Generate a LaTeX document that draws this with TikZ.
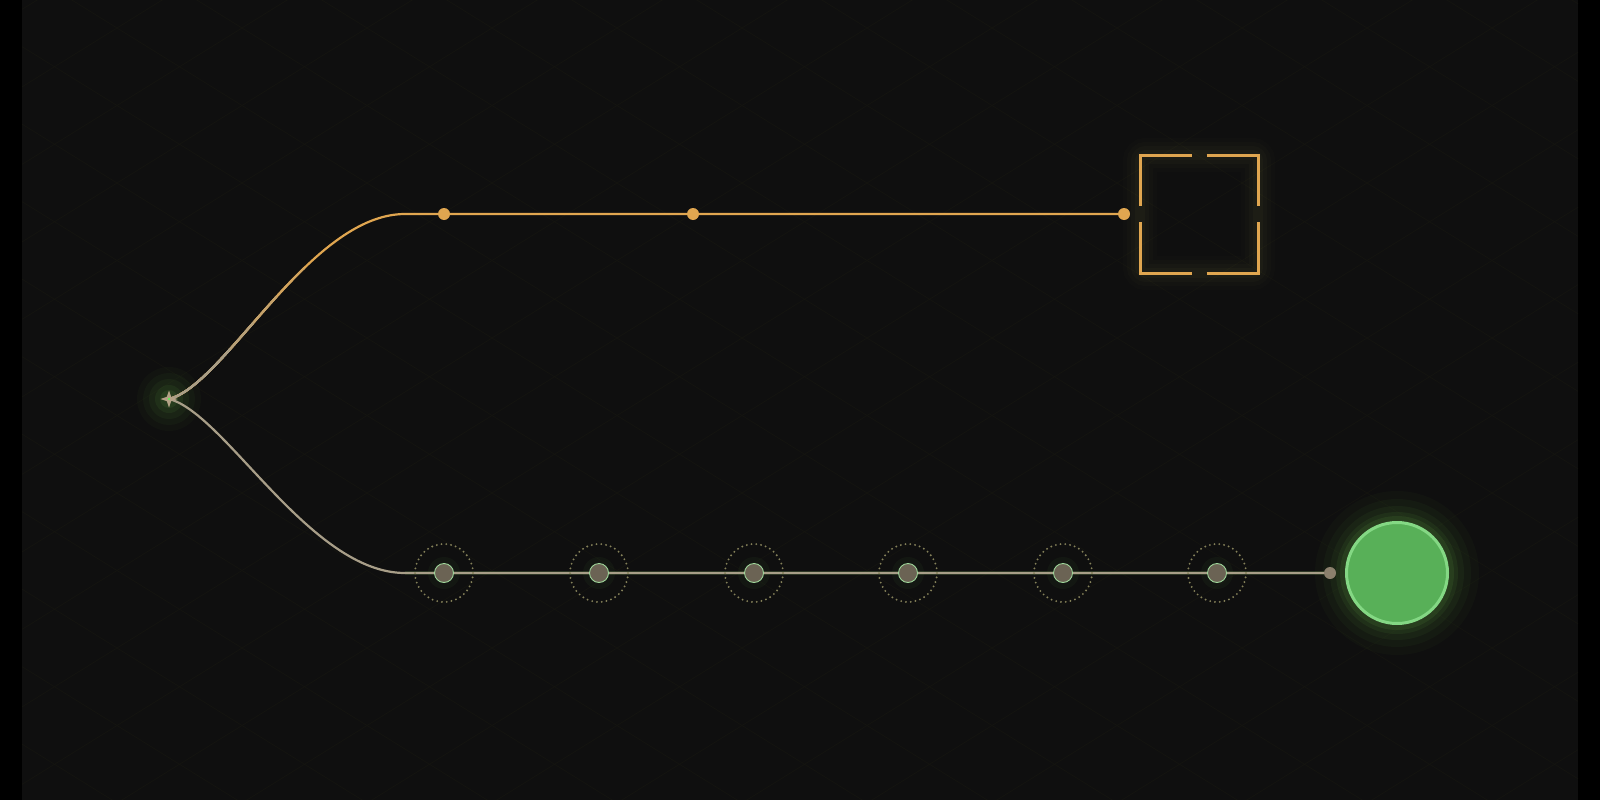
\documentclass[tikz,border=0pt]{standalone}
\usetikzlibrary{shapes.geometric,calc}
\definecolor{bgc}{HTML}{0F0F0F}
\definecolor{gridc}{HTML}{15150F}
\definecolor{orangec}{HTML}{E0A650}
\definecolor{tanc}{HTML}{A89E88}
\definecolor{olivec}{HTML}{858159}
\definecolor{nodefill}{HTML}{6B6354}
\definecolor{nodering}{HTML}{9ED69A}
\definecolor{enddot}{HTML}{8B806D}
\definecolor{greenf}{HTML}{58B058}
\definecolor{greenr}{HTML}{84D884}
\definecolor{glowg}{HTML}{4A7A36}
\definecolor{boxglow}{HTML}{5A5A30}
\definecolor{starc}{HTML}{B4A286}
\pgfdeclarelayer{back}
\pgfdeclarelayer{lines}
\pgfsetlayers{back,lines,main}
\tikzset{
  odot/.style={circle, fill=orangec, inner sep=0pt, outer sep=0pt, minimum size=12pt},
  stage/.style={circle, fill=nodefill, draw=nodering, line width=0.9pt, inner sep=0pt, outer sep=0pt, minimum size=19pt},
  halo/.style={circle, draw=olivec, line width=2.1pt, line cap=round, dash pattern=on 0pt off 4.8pt, inner sep=0pt, outer sep=0pt, minimum size=58pt},
  edot/.style={circle, fill=enddot, inner sep=0pt, outer sep=0pt, minimum size=12pt},
  goal/.style={circle, fill=greenf, draw=greenr, line width=3pt, inner sep=0pt, outer sep=0pt, minimum size=101pt},
  origin/.style={star, star points=4, star point ratio=2.8, fill=starc, inner sep=0pt, outer sep=0pt, minimum size=17pt},
  frame/.style={rectangle, inner sep=0pt, outer sep=0pt, minimum size=118pt},
  bracket/.style={draw=orangec, line width=3pt},
  topline/.style={draw=orangec, line width=2.2pt},
  botline/.style={draw=tanc, line width=2.2pt},
}
\begin{document}
\begin{tikzpicture}[x=1pt,y=-1pt]
\useasboundingbox (0,0) rectangle (1600,800);
% nodes
\node[origin] (s) at (169,399) {};
\fill[green!70!white] (s.center) circle (1.2pt);
\node[odot] (t1) at (444,214) {};
\node[odot] (t2) at (693,214) {};
\node[odot] (t3) at (1124,214) {};
\node[frame] (box) at (1199,214) {};
\coordinate (tc) at (405,214);
\coordinate (bc) at (405,573);
\foreach \i/\x in {1/444,2/599,3/754,4/908,5/1063,6/1217}{
  \node[halo] (h\i) at (\x,573) {};
  \node[stage] (n\i) at (\x,573) {};
}
\node[edot] (e) at (1330,573) {};
\node[goal] (g) at (1397,573) {};
% brackets
\draw[bracket] ($(box.north)+(-7.5,0)$) -- (box.north west) -- ($(box.west)+(0,-8)$);
\draw[bracket] ($(box.north)+(7.5,0)$) -- (box.north east) -- ($(box.east)+(0,-8)$);
\draw[bracket] ($(box.south)+(-7.5,0)$) -- (box.south west) -- ($(box.west)+(0,8)$);
\draw[bracket] ($(box.south)+(7.5,0)$) -- (box.south east) -- ($(box.east)+(0,8)$);
\begin{pgfonlayer}{back}
  \fill[black] (0,0) rectangle (1600,800);
  \fill[bgc] (22,0) rectangle (1578,800);
  \begin{scope}
    \clip (22,0) rectangle (1578,800);
    \foreach \k in {-12,...,14}{
      \draw[gridc, line width=0.6pt] (22,{-185.9+77.5*\k}) -- (1578,{778.8+77.5*\k});
      \draw[gridc, line width=0.6pt] (22,{861.9+77.5*(\k-2)}) -- (1578,{-102.8+77.5*(\k-2)});
    }
  \end{scope}
  % glows
  \foreach \r/\o in {82/0.05,74/0.07,67/0.1,61/0.14,57/0.2}{
    \fill[glowg, opacity=\o] (g.center) circle (\r);
  }
  \foreach \r/\o in {32/0.05,26/0.07,20/0.1,14/0.14,9/0.18}{
    \fill[glowg, opacity=\o] (s.center) circle (\r);
  }
  \foreach \w/\o in {34/0.04,26/0.05,18/0.07,10/0.09}{
    \draw[boxglow, line width=\w pt, opacity=\o, rounded corners=6pt] (box.north west) rectangle (box.south east);
  }
  \foreach \i in {1,...,6}{
    \fill[glowg, opacity=0.08] (n\i.center) circle (16);
  }
\end{pgfonlayer}
\begin{pgfonlayer}{lines}
  % top branch with gradient at start
  \draw[topline] (s.center) .. controls (225,385) and (310,214) .. (tc) -- (t1) -- (t2) -- (t3);
  \draw[draw=tanc!25!orangec, line width=2.2pt, dash pattern=on 190pt off 3000pt] (s.center) .. controls (225,385) and (310,214) .. (tc);
  \draw[draw=tanc!50!orangec, line width=2.2pt, dash pattern=on 150pt off 3000pt] (s.center) .. controls (225,385) and (310,214) .. (tc);
  \draw[draw=tanc!75!orangec, line width=2.2pt, dash pattern=on 115pt off 3000pt] (s.center) .. controls (225,385) and (310,214) .. (tc);
  \draw[draw=tanc, line width=2.2pt, dash pattern=on 80pt off 3000pt] (s.center) .. controls (225,385) and (310,214) .. (tc);
  % bottom branch
  \draw[glowg, line width=4pt, opacity=0.25] (bc) -- (e);
  \draw[botline] (s.center) .. controls (225,413) and (310,573) .. (bc) -- (n1) -- (n2) -- (n3) -- (n4) -- (n5) -- (n6) -- (e);
\end{pgfonlayer}
\end{tikzpicture}
\end{document}
